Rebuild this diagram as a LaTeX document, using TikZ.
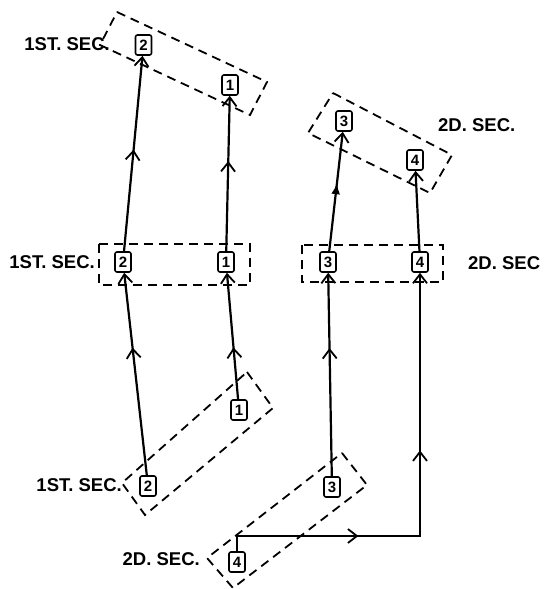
\documentclass[tikz,border=0pt]{standalone}
\usepackage{fontspec}
\setmainfont{Liberation Sans}
\usetikzlibrary{arrows.meta,decorations.markings}
\begin{document}
\begin{tikzpicture}[x=1pt,y=-1pt,
  box/.style={draw,line width=1.6pt,rounded corners=2pt,minimum width=16pt,minimum height=20pt,inner sep=0pt,fill=white,font=\fontsize{15}{15}\selectfont\bfseries},
  conn/.style={line width=2.2pt,-{Straight Barb[length=9pt,width=14pt,line width=1.8pt]}},
  chev/.style={postaction={decorate,decoration={markings,mark=at position #1 with {\arrow{Straight Barb[length=9pt,width=14pt,line width=1.8pt]}}}}},
  fchev/.style={postaction={decorate,decoration={markings,mark=at position #1 with {\arrow{Latex[length=11pt,width=9pt]}}}}},
  twochev/.style 2 args={postaction={decorate,decoration={markings,
     mark=at position #1 with {\arrow{Straight Barb[length=9pt,width=14pt,line width=1.8pt]}},
     mark=at position #2 with {\arrow{Straight Barb[length=9pt,width=14pt,line width=1.8pt]}}}}},
  sec/.style={line width=1.8pt,dash pattern=on 9pt off 6pt},
  lab/.style={inner sep=0pt,font=\fontsize{18.5}{18.5}\selectfont\bfseries}
]
\useasboundingbox (0,0) rectangle (556,589);

% dashed section frames
\draw[sec] (117,12) -- (267,82) -- (250,115) -- (100,45) -- cycle;
\draw[sec] (99,244) rectangle (250,285);
\draw[sec] (302,245) rectangle (443,282);
\draw[sec] (333,93) -- (452,155) -- (430,193) -- (308,133) -- cycle;
\draw[sec] (247,372) -- (273,408) -- (145,515) -- (122,483) -- cycle;
\draw[sec] (342,453) -- (367,485) -- (233,588) -- (207,558) -- cycle;

% nodes
\node[box] (t2) at (143.5,45) {2};
\node[box] (t1) at (230,85) {1};
\node[box] (t3) at (344,121) {3};
\node[box] (t4) at (415,160) {4};
\node[box] (m2) at (123,262) {2};
\node[box] (m1) at (226,262) {1};
\node[box] (m3) at (328,262) {3};
\node[box] (m4) at (420,262) {4};
\node[box] (b1) at (239,410) {1};
\node[box] (b2) at (148,486) {2};
\node[box] (b3) at (332,487) {3};
\node[box] (b4) at (237,562) {4};
\coordinate (k4) at (420,536);

% labels
\node[lab,anchor=east] (l1) at (110,44) {1ST. SEC.};
\node[lab,anchor=east] (l2) at (95,262) {1ST. SEC.};
\node[lab,anchor=east] (l3) at (122,485) {1ST. SEC.};
\node[lab,anchor=west] (l4) at (438,125) {2D. SEC.};
\node[lab,anchor=west] (l5) at (468,263) {2D. SEC};
\node[lab,anchor=east] (l6) at (200,559) {2D. SEC.};

% connectors
\draw[conn,chev=0.63] (b2) -- (m2);
\draw[conn,chev=0.41] (b1) -- (m1);
\draw[conn,chev=0.63] (b3) -- (m3);
\draw[conn,twochev={0.296}{0.615}] (b4.north) |- (k4) -- (m4);
\draw[conn,chev=0.52] (m2) -- (t2);
\draw[conn,chev=0.58] (m1) -- (t1);
\draw[conn,fchev=0.57] (m3) -- (t3);
\draw[conn] (m4) -- (t4);
\end{tikzpicture}
\end{document}
